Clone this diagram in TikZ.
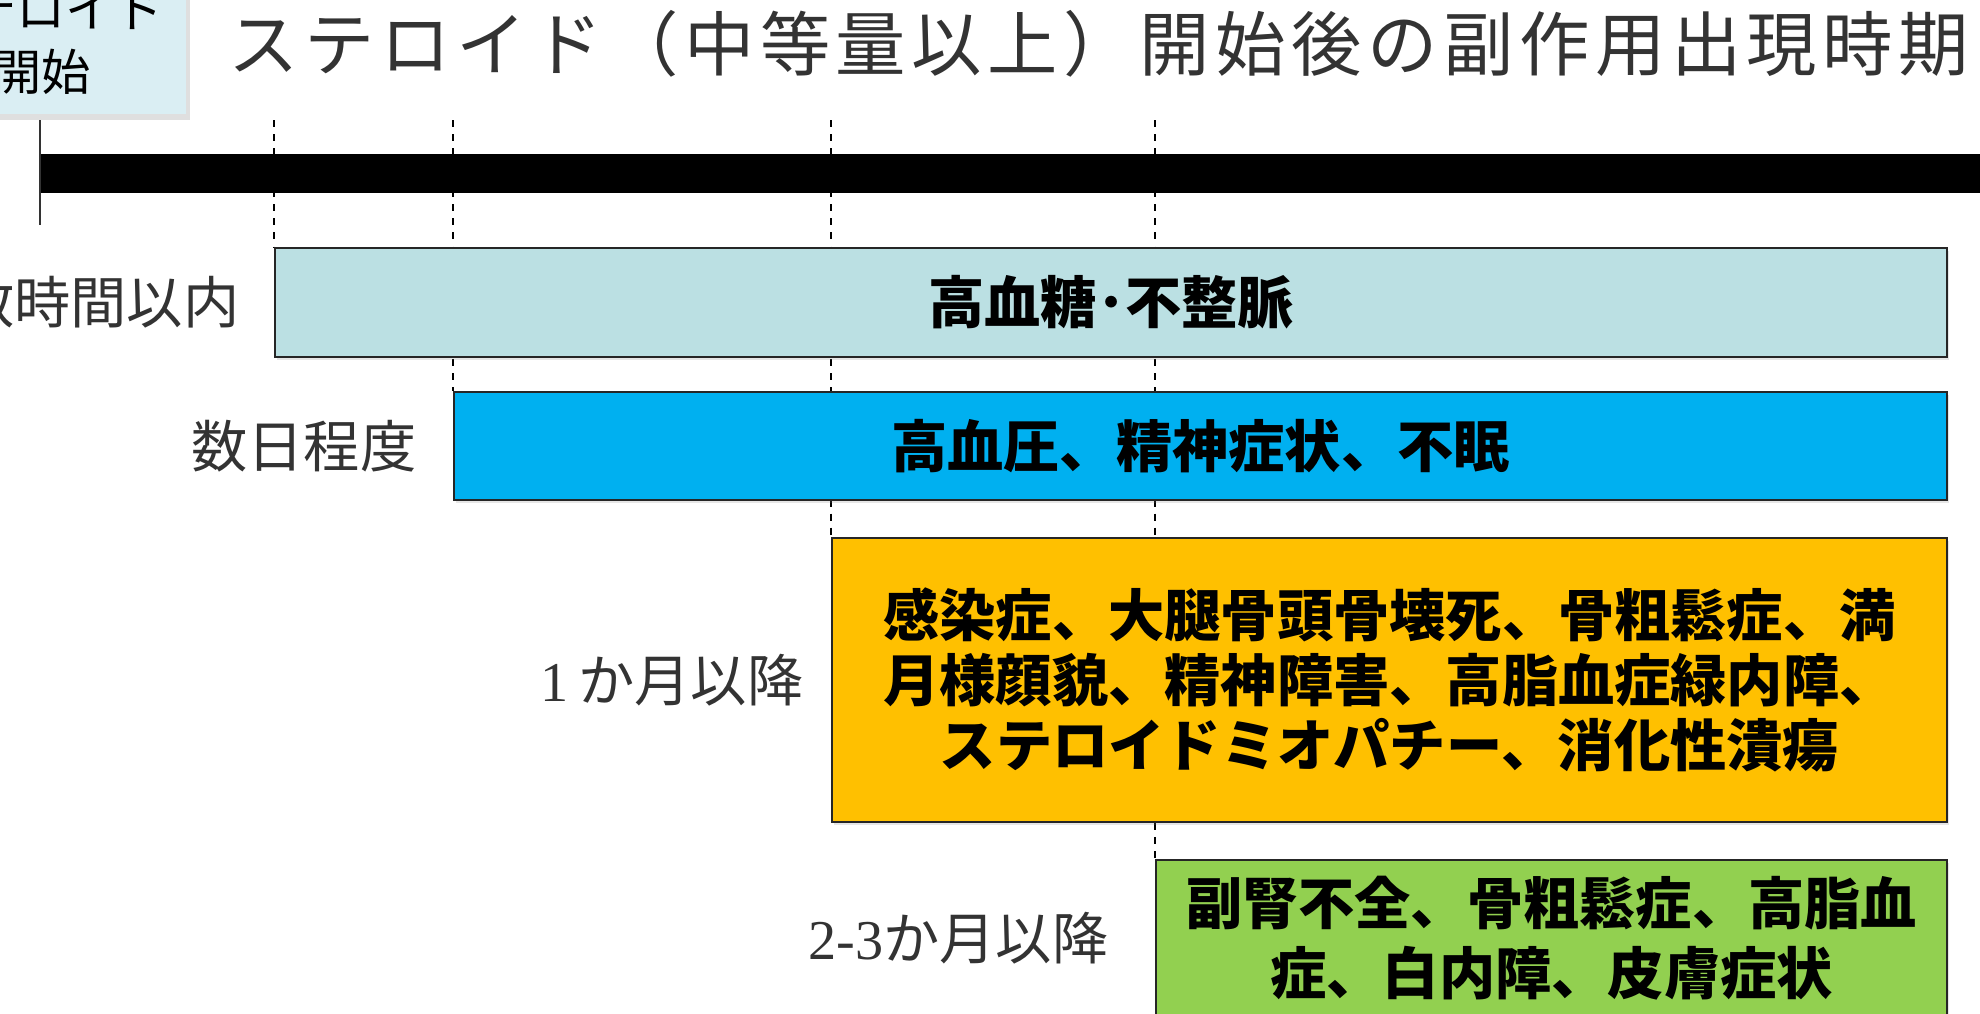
\documentclass[tikz,border=0pt]{standalone}
\usepackage{fontspec}
\setmainfont{Liberation Serif}
\newfontfamily\jp{Noto Sans CJK JP}
\newfontfamily\jptitle[LetterSpace=8]{Noto Sans CJK JP}
\usepackage{tikz}
\usetikzlibrary{positioning,shadows,backgrounds}

\definecolor{hourcol}{HTML}{BBE0E3}
\definecolor{daycol}{HTML}{00B0F0}
\definecolor{monthcol}{HTML}{FFC000}
\definecolor{latecol}{HTML}{92D050}
\definecolor{startcol}{HTML}{DAEEF3}

\begin{document}
\begin{tikzpicture}[x=1cm,y=-1cm,
			effect/.style={draw=black!85, line width=0.6pt, anchor=north west, inner sep=0pt, align=center,
				drop shadow={opacity=0.2, shadow xshift=0.6pt, shadow yshift=-0.8pt},
				font=\jp\bfseries\fontsize{16}{18.5}\selectfont},
			period/.style={font=\jp\fontsize{16}{19}\selectfont, text=black!80, inner sep=0pt},
			onset/.style={dash pattern=on 2pt off 2pt, line width=0.5pt}]
			\useasboundingbox (0,0) rectangle (19.8,10.13);
			\clip (0,0) rectangle (19.8,10.13);
			% side effect boxes
			\node[effect, fill=hourcol, minimum width=16.72cm, minimum height=1.09cm] (b1) at (2.74,2.47) {高血糖･不整脈};
			\node[effect, fill=daycol, minimum width=14.93cm, minimum height=1.08cm] (b2) at (4.53,3.91) {高血圧、精神症状、不眠};
			\node[effect, fill=monthcol, minimum width=11.15cm, minimum height=2.84cm] (b3) at (8.31,5.37)
				{感染症、大腿骨頭骨壊死、骨粗鬆症、満\\月様顔貌、精神障害、高脂血症緑内障、\\ステロイドミオパチー、消化性潰瘍};
			\node[effect, fill=latecol, minimum width=7.91cm, minimum height=1.56cm,
				font=\jp\bfseries\fontsize{16}{20}\selectfont] (b4) at (11.55,8.59)
				{副腎不全、骨粗鬆症、高脂血\\症、白内障、皮膚症状};
			% periods
			\node[period, left=3.4mm of b1] (p1) {数時間以内};
			\node[period, left=3.6mm of b2] (p2) {数日程度};
			\node[period, left=2.7mm of b3] (p3) {{\rmfamily 1\,}か月以降};
			\node[period, left=4.6mm of b4] (p4) {{\rmfamily 2-3}か月以降};
			% time axis
			\coordinate (top) at (0,1.20);
			\coordinate (t0) at (0.40,1.735);
			\coordinate (tend) at (20.2,1.735);
			\begin{scope}[on background layer]
				\foreach \b in {b1,b2,b3,b4}
					\draw[onset] (\b.north west |- top) -- (\b.north west);
			\end{scope}
			\draw[line width=0.39cm] (t0) -- (tend);
			\draw[line width=0.8pt, black!80] (t0 |- top) -- (0.40,2.25);
			\node[fill=startcol, minimum width=2.9cm, minimum height=1.45cm, anchor=south east, align=center,
				drop shadow={opacity=0.25, shadow xshift=1pt, shadow yshift=-1.5pt},
				font=\jp\fontsize{14}{18}\selectfont] (start) at (1.87,1.15) {ステロイド\\開始};
			\node[anchor=west, inner sep=0pt, text=black!80, font=\jptitle\fontsize{20}{24}\selectfont] (title) at (2.28,0.44)
				{ステロイド（中等量以上）開始後の副作用出現時期};
		\end{tikzpicture}
\end{document}
